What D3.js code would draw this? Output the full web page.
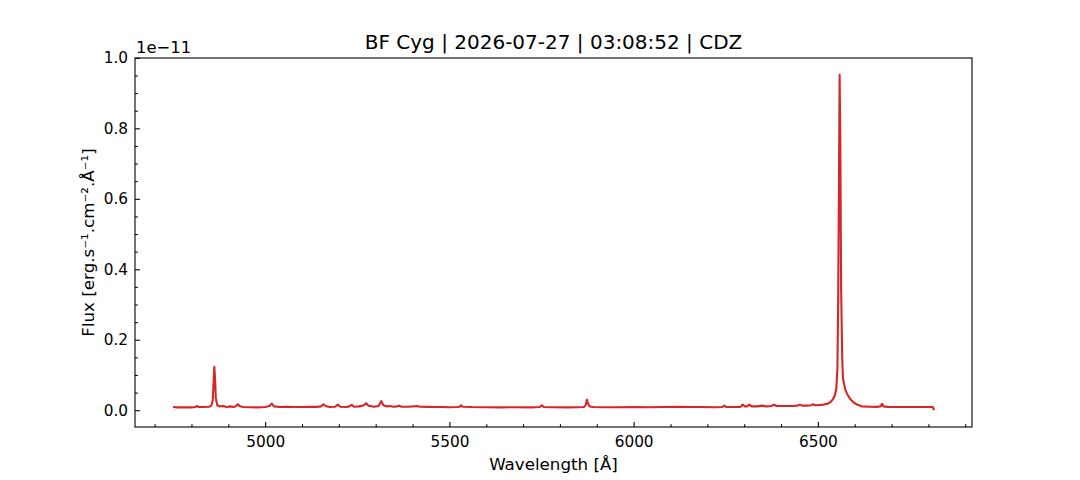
<!DOCTYPE html>
<html>
<head>
<meta charset="utf-8">
<script src="https://cdn.jsdelivr.net/npm/d3@7"></script>
<style>
  body { margin: 0; background: #fff; }
  text { font-family: "DejaVu Sans", sans-serif; fill: #000; }
</style>
</head>
<body>
<script>
// spectrum, flux in units of 1e-11
const wavelength = [4750, 4760, 4780, 4800, 4810, 4815, 4820, 4835, 4848, 4854, 4858, 4860, 4862, 4864, 4866, 4870, 4876, 4886, 4895, 4905, 4915, 4922, 4926, 4930, 4940, 4960, 4980, 5000, 5012, 5018, 5024, 5040, 5060, 5080, 5100, 5120, 5140, 5152, 5158, 5164, 5175, 5190, 5197, 5204, 5220, 5229, 5235, 5241, 5255, 5268, 5274, 5280, 5295, 5308, 5315, 5321, 5330, 5339, 5348, 5358, 5364, 5370, 5390, 5412, 5420, 5440, 5460, 5480, 5500, 5520, 5528, 5532, 5536, 5560, 5600, 5640, 5680, 5720, 5745, 5751, 5757, 5780, 5820, 5850, 5865, 5870, 5873, 5876, 5880, 5890, 5920, 5960, 6000, 6040, 6080, 6120, 6150, 6180, 6220, 6240, 6246, 6252, 6270, 6290, 6296, 6302, 6308, 6314, 6320, 6335, 6348, 6360, 6374, 6381, 6388, 6410, 6430, 6445, 6451, 6457, 6470, 6482, 6487, 6493, 6505, 6515, 6525, 6533, 6540, 6546, 6550, 6553, 6555, 6557, 6559, 6561, 6563, 6566, 6568, 6574, 6579, 6587, 6595, 6606, 6619, 6640, 6660, 6670, 6674, 6678, 6690, 6720, 6760, 6800, 6812, 6815];
const flux = [0.009, 0.008, 0.0085, 0.008, 0.009, 0.012, 0.009, 0.009, 0.01, 0.013, 0.03, 0.08, 0.123, 0.09, 0.035, 0.014, 0.011, 0.012, 0.009, 0.011, 0.009, 0.013, 0.017, 0.012, 0.009, 0.0085, 0.008, 0.009, 0.012, 0.019, 0.011, 0.009, 0.0095, 0.009, 0.009, 0.0095, 0.0095, 0.011, 0.017, 0.012, 0.009, 0.01, 0.016, 0.01, 0.009, 0.011, 0.015, 0.01, 0.011, 0.014, 0.02, 0.013, 0.01, 0.012, 0.026, 0.014, 0.011, 0.012, 0.01, 0.011, 0.013, 0.01, 0.01, 0.012, 0.01, 0.0095, 0.009, 0.009, 0.0085, 0.009, 0.01, 0.014, 0.01, 0.009, 0.0085, 0.008, 0.0085, 0.008, 0.009, 0.014, 0.009, 0.0085, 0.008, 0.0085, 0.009, 0.014, 0.03, 0.02, 0.011, 0.009, 0.0085, 0.0085, 0.009, 0.0085, 0.009, 0.0095, 0.009, 0.009, 0.0085, 0.009, 0.013, 0.009, 0.009, 0.0095, 0.016, 0.011, 0.011, 0.016, 0.011, 0.011, 0.013, 0.011, 0.012, 0.016, 0.012, 0.012, 0.012, 0.013, 0.016, 0.013, 0.013, 0.014, 0.017, 0.014, 0.015, 0.016, 0.018, 0.022, 0.03, 0.042, 0.06, 0.12, 0.3, 0.62, 0.952, 0.75, 0.35, 0.15, 0.09, 0.06, 0.047, 0.033, 0.024, 0.016, 0.011, 0.01, 0.0095, 0.011, 0.018, 0.011, 0.0095, 0.009, 0.009, 0.009, 0.009, 0.0];

const xTickValues = [5000, 5500, 6000, 6500];
const yTickValues = [0.0, 0.2, 0.4, 0.6, 0.8, 1.0];
const titleText = "BF Cyg | 2026-07-27 | 03:08:52 | CDZ";

const WIDTH = 1080;
const HEIGHT = 480;
const mLeft = 135, mRight = 972, mTop = 58, mBottom = 427;

const svg = d3.select("body").append("svg")
    .attr("width", WIDTH)
    .attr("height", HEIGHT);

// matplotlib style 5% margins
const xExt = d3.extent(wavelength);
const yExt = d3.extent(flux);
const xPad = (xExt[1] - xExt[0]) * 0.05;
const yPad = (yExt[1] - yExt[0]) * 0.05;

const x = d3.scaleLinear()
    .domain([xExt[0] - xPad, xExt[1] + xPad])
    .range([mLeft, mRight]);
const y = d3.scaleLinear()
    .domain([yExt[0] - yPad, yExt[1] + yPad])
    .range([mBottom, mTop]);

const points = wavelength.map((w, i) => [w, flux[i]]);

svg.append("defs").append("clipPath").attr("id", "clip")
  .append("rect")
    .attr("x", mLeft).attr("y", mTop)
    .attr("width", mRight - mLeft).attr("height", mBottom - mTop);

svg.append("path")
    .datum(points)
    .attr("clip-path", "url(#clip)")
    .attr("fill", "none")
    .attr("stroke", "#d62728")
    .attr("stroke-width", 2.1)
    .attr("stroke-linejoin", "round")
    .attr("stroke-linecap", "butt")
    .attr("d", d3.line().x(d => x(d[0])).y(d => y(d[1])));

// ticks pointing inward
const xMinor = d3.range(4700, 6950, 100).filter(v => !xTickValues.includes(v));
const yMinor = d3.range(0, 1.01, 0.05).filter(v => !yTickValues.some(t => Math.abs(t - v) < 1e-6));

const xAxis = d3.axisBottom(x).tickValues(xTickValues).tickSizeInner(-4.9).tickSizeOuter(0).tickPadding(9).tickFormat(d3.format("d"));
const xAxisMinor = d3.axisBottom(x).tickValues(xMinor).tickSizeInner(-2.8).tickSizeOuter(0).tickFormat("");
const yAxis = d3.axisLeft(y).tickValues(yTickValues).tickSizeInner(-4.9).tickSizeOuter(0).tickPadding(7).tickFormat(d3.format(".1f"));
const yAxisMinor = d3.axisLeft(y).tickValues(yMinor).tickSizeInner(-2.8).tickSizeOuter(0).tickFormat("");

function styleAxis(g) {
  g.select(".domain").remove();
  g.selectAll(".tick line").attr("stroke", "#000").attr("stroke-width", 1.1);
  g.selectAll(".tick text").attr("font-size", 15.3).attr("font-family", "DejaVu Sans").attr("fill", "#000");
}

svg.append("g").attr("transform", `translate(0,${mBottom})`).call(xAxis).call(styleAxis);
svg.append("g").attr("transform", `translate(0,${mBottom})`).call(xAxisMinor).call(styleAxis);
svg.append("g").attr("transform", `translate(${mLeft},0)`).call(yAxis).call(styleAxis);
svg.append("g").attr("transform", `translate(${mLeft},0)`).call(yAxisMinor).call(styleAxis);

// frame
svg.append("rect")
    .attr("x", mLeft).attr("y", mTop)
    .attr("width", mRight - mLeft).attr("height", mBottom - mTop)
    .attr("fill", "none")
    .attr("stroke", "#000")
    .attr("stroke-width", 1.1);

// offset text
svg.append("text")
    .attr("x", mLeft + 1)
    .attr("y", 53)
    .attr("font-size", 16.4)
    .text("1e\u221211");

svg.append("text")
    .attr("x", (mLeft + mRight) / 2)
    .attr("y", 49)
    .attr("text-anchor", "middle")
    .attr("font-size", 20)
    .text(titleText);

svg.append("text")
    .attr("x", (mLeft + mRight) / 2)
    .attr("y", 470)
    .attr("text-anchor", "middle")
    .attr("font-size", 16.7)
    .text("Wavelength [Å]");

svg.append("text")
    .attr("transform", `translate(94,${(mTop + mBottom) / 2}) rotate(-90)`)
    .attr("text-anchor", "middle")
    .attr("font-size", 16.7)
    .text("Flux [erg.s\u207B\u00B9.cm\u207B\u00B2.Å\u207B\u00B9]");
</script>
</body>
</html>
